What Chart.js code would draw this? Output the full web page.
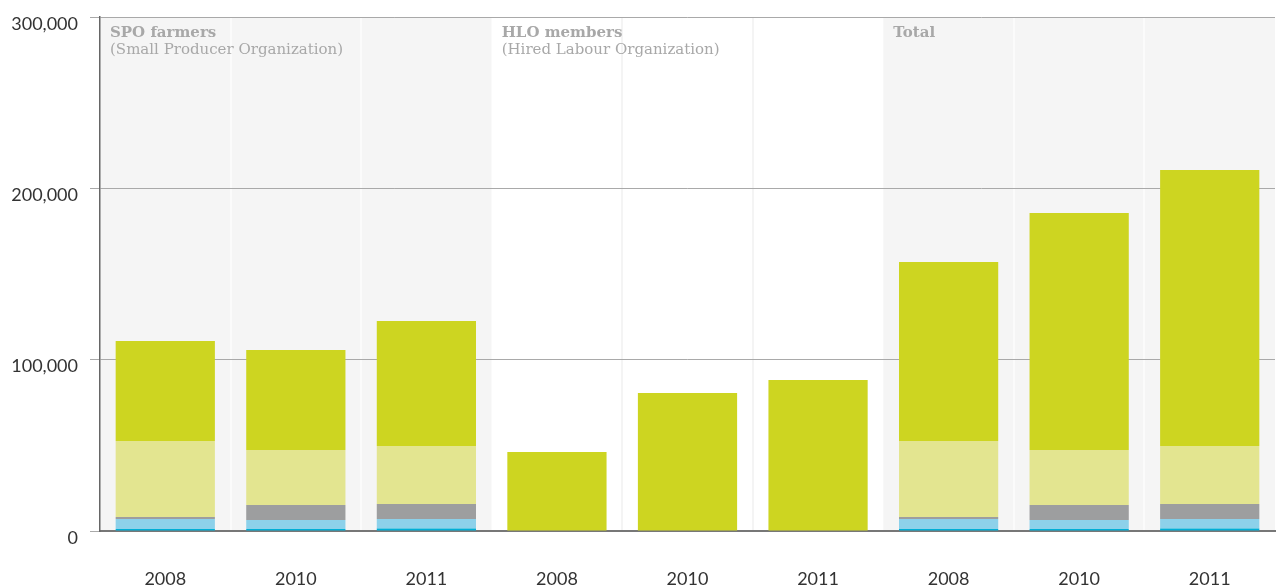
<!DOCTYPE html>
<html>
<head>
<meta charset="utf-8">
<script src="https://cdn.jsdelivr.net/npm/chart.js@4/dist/chart.umd.min.js"></script>
<style>
  html, body { margin: 0; padding: 0; background: #fff; }
  #wrap { width: 1281px; height: 585px; }
</style>
</head>
<body>
<div id="wrap"><canvas id="farmersChart"></canvas></div>
<script>
// Kategori dan data (dari bawah ke atas)
const years = ['2008', '2010', '2011', '2008', '2010', '2011', '2008', '2010', '2011'];
const groupTitles = ['SPO farmers', 'HLO members', 'Total'];
const groupSubtitles = ['(Small Producer Organization)', '(Hired Labour Organization)', ''];
const yTicks = [0, 100000, 200000, 300000];

const seriesNames = ['Series A', 'Series B', 'Series C', 'Series D', 'Series E'];
const seriesA = [1200, 1200, 1400, 0, 0, 0, 1200, 1200, 1400];
const seriesB = [5800, 5200, 5600, 0, 0, 0, 5800, 5200, 5600];
const seriesC = [1200, 8800, 8800, 0, 0, 0, 1200, 8800, 8800];
const seriesD = [44300, 32100, 33800, 0, 0, 0, 44300, 32100, 33800];
const seriesE = [58400, 58300, 73000, 46100, 80500, 88100, 104500, 138300, 161100];

const colors = ['#00aed6', '#8dd1ea', '#9d9e9f', '#e3e590', '#cdd521'];

// Latar belakang per kelompok + judul kelompok
const bandPlugin = {
    id: 'bands',
    beforeDraw(chart) {
        const { ctx, chartArea, scales } = chart;
        const x = scales.x;
        const half = (x.getPixelForValue(1) - x.getPixelForValue(0)) / 2;
        ctx.save();
        for (let g = 0; g < 3; g++) {
            const left = x.getPixelForValue(g * 3) - half;
            const right = x.getPixelForValue(g * 3 + 2) + half;
            const shaded = g !== 1;
            ctx.fillStyle = shaded ? '#f5f5f5' : '#ffffff';
            ctx.fillRect(left, chartArea.top, right - left, chartArea.bottom - chartArea.top);
            ctx.strokeStyle = shaded ? '#fbfbfb' : '#f4f4f4';
            ctx.lineWidth = 2;
            for (let i = 1; i < 3; i++) {
                const sx = Math.round(x.getPixelForValue(g * 3 + i) - half);
                ctx.beginPath();
                ctx.moveTo(sx, chartArea.top);
                ctx.lineTo(sx, chartArea.bottom);
                ctx.stroke();
            }
        }
        ctx.restore();
    },
    afterDraw(chart) {
        const { ctx, chartArea, scales } = chart;
        const x = scales.x;
        const half = (x.getPixelForValue(1) - x.getPixelForValue(0)) / 2;
        ctx.save();
        ctx.fillStyle = '#a8a8a8';
        ctx.textBaseline = 'middle';
        for (let g = 0; g < 3; g++) {
            const left = x.getPixelForValue(g * 3) - half + 10;
            ctx.font = 'bold 15px "DejaVu Serif"';
            ctx.fillText(groupTitles[g], left, chartArea.top + 16);
            ctx.font = '15px "DejaVu Serif"';
            ctx.fillText(groupSubtitles[g], left, chartArea.top + 33);
        }
        ctx.restore();
    }
};

const datasets = [seriesA, seriesB, seriesC, seriesD, seriesE].map((d, i) => ({
    label: seriesNames[i],
    data: d,
    backgroundColor: colors[i],
    borderWidth: 0,
    categoryPercentage: 1,
    barPercentage: 0.76
}));

const ctx = document.getElementById('farmersChart').getContext('2d');
const farmersChart = new Chart(ctx, {
    type: 'bar',
    data: { labels: years, datasets: datasets },
    options: {
        responsive: true,
        maintainAspectRatio: false,
        animation: false,
        layout: { padding: { top: 17, right: 6, left: 0, bottom: 0 } },
        plugins: {
            legend: { display: false },
            tooltip: { enabled: false }
        },
        scales: {
            x: {
                stacked: true,
                afterFit: s => { s.height = 54; },
                grid: { display: false, drawTicks: false },
                border: { color: '#777', width: 2 },
                ticks: {
                    color: '#333',
                    padding: 37,
                    font: { family: 'Lato', size: 18 }
                }
            },
            y: {
                stacked: true,
                min: 0,
                max: 300000,
                afterFit: s => { s.width = 100; s.paddingTop = 0; s.paddingBottom = 0; },
                afterBuildTicks: s => { s.ticks = yTicks.map(v => ({ value: v })); },
                grid: { color: '#a9a9a9', lineWidth: 1, tickLength: 10 },
                border: { color: '#666', width: 1.5 },
                ticks: {
                    color: '#333',
                    padding: 12,
                    labelOffset: 7,
                    font: { family: 'Lato', size: 18 },
                    callback: v => v.toLocaleString('en-US')
                }
            }
        }
    },
    plugins: [bandPlugin]
});
</script>
</body>
</html>
